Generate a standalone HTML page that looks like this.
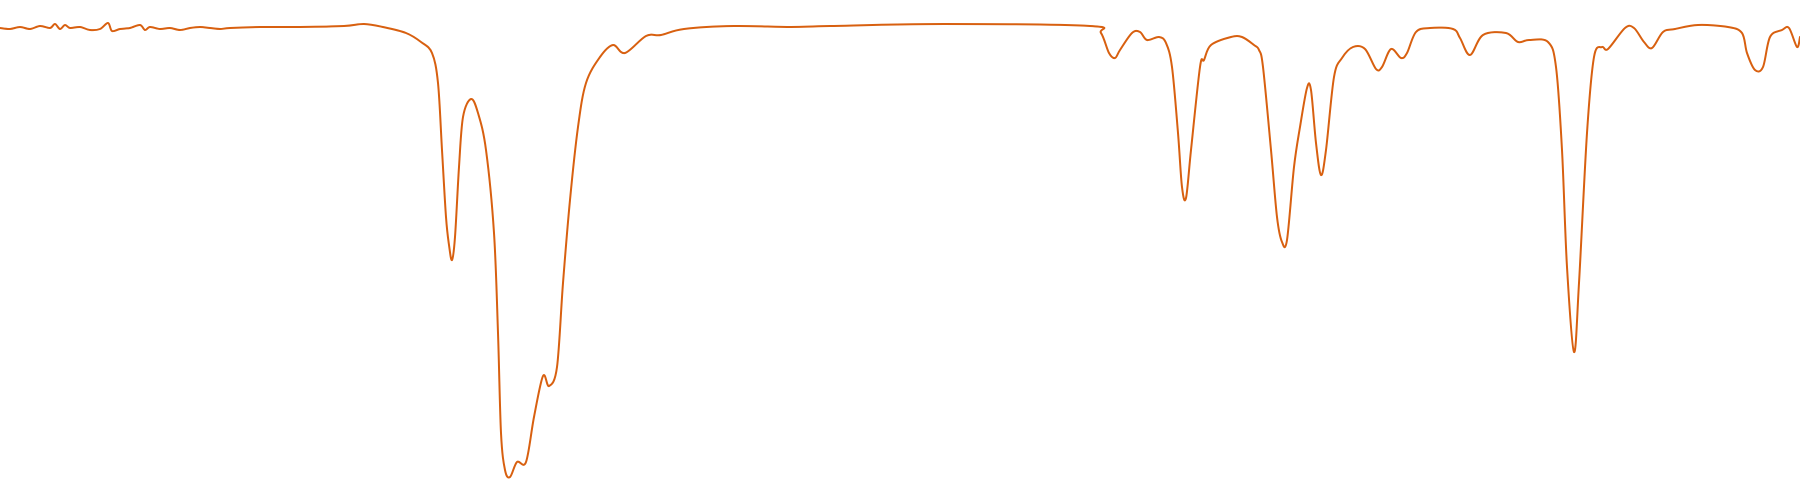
<!DOCTYPE html>
<html>
<head>
<meta charset="utf-8">
<style>
  html,body{margin:0;padding:0;background:#fff;}
  body{width:1800px;height:500px;overflow:hidden;font-family:"Liberation Sans",sans-serif;}
  svg{display:block;}
</style>
</head>
<body>
<svg id="chart" width="1800" height="500" viewBox="0 0 1800 500">
  <path id="spectrum" fill="none" stroke="#d86010" stroke-width="2" stroke-linejoin="round" stroke-linecap="round"></path>
</svg>
<script>
// wavenumber (cm-1)
const wavenumbers = [4000,3980,3960,3940,3920,3900,3890,3880,3870,3860,3840,3820,3800,3784,3776,3760,3740,3720,3710,3700,3680,3660,3640,3620,3600,3580,3560,3540,3480,3400,3312,3272,3234,3188,3158,3136,3124,3116,3108,3102,3096,3090,3082,3074,3058,3044,3028,3012,3004,2998,2990,2980,2966,2948,2932,2914,2902,2886,2874,2860,2844,2828,2800,2774,2750,2708,2678,2632,2532,2418,2340,2112,1820,1798,1782,1770,1760,1736,1720,1706,1682,1668,1656,1644,1636,1628,1618,1600,1592,1578,1538,1516,1492,1482,1474,1458,1446,1436,1426,1412,1400,1386,1378,1368,1358,1348,1332,1316,1294,1270,1248,1236,1218,1198,1186,1168,1140,1094,1080,1060,1034,988,964,942,904,888,876,866,852,842,826,812,796,784,750,732,712,696,674,650,604,544,516,506,490,474,460,436,422,406,400];
// transmittance (%)
const transmittance = [94.4,94.2,94.6,94.2,94.8,94.4,95.2,94.2,95.0,94.4,94.6,94.0,94.2,95.4,93.8,94.2,94.4,95.0,94.0,94.6,94.2,94.4,94.0,94.4,94.6,94.4,94.2,94.4,94.6,94.6,94.8,95.2,94.6,93.4,91.6,89.4,83.4,70.0,56.6,51.0,48.0,52.6,66.6,76.6,80.2,77.4,70.0,53.4,33.4,13.4,6.0,4.6,7.6,7.6,16.6,24.8,22.8,26.6,43.4,60.0,74.6,83.4,88.6,91.0,89.4,92.8,93.0,94.2,94.8,94.6,94.8,95.2,94.8,93.4,89.4,88.4,90.0,93.4,93.6,92.0,92.6,91.4,86.6,73.4,62.6,60.4,70.0,86.6,88.0,91.0,92.6,92.6,91.0,90.0,86.6,70.0,56.6,51.6,52.0,66.6,74.6,82.4,82.0,71.4,65.0,70.0,84.6,88.4,90.6,90.2,86.2,86.6,90.2,88.4,89.4,93.6,94.4,94.2,92.4,89.0,93.0,93.4,91.6,92.0,91.6,86.6,70.0,46.6,29.6,43.4,73.4,88.6,90.6,90.2,94.4,94.4,91.6,90.4,93.6,94.2,95.0,94.6,93.4,89.4,86.0,86.6,92.6,94.0,94.4,90.6,92.6];

const xDomain = [4000, 400], xRange = [0, 1800];
const yDomain = [100, 0], yRange = [0, 500];
function xScale(v){ return xRange[0] + (v - xDomain[0]) / (xDomain[1] - xDomain[0]) * (xRange[1] - xRange[0]); }
function yScale(v){ return yRange[0] + (v - yDomain[0]) / (yDomain[1] - yDomain[0]) * (yRange[1] - yRange[0]); }

const pts = wavenumbers.map((w, i) => [xScale(w), yScale(transmittance[i])]);
let d = 'M' + pts[0][0].toFixed(2) + ',' + pts[0][1].toFixed(2);
const t = 0.5;
for (let i = 0; i < pts.length - 1; i++) {
  const p0 = pts[Math.max(0, i - 1)], p1 = pts[i], p2 = pts[i + 1], p3 = pts[Math.min(pts.length - 1, i + 2)];
  const c1x = p1[0] + (p2[0] - p0[0]) / 6 * t * 2;
  const c1y = p1[1] + (p2[1] - p0[1]) / 6 * t * 2;
  const c2x = p2[0] - (p3[0] - p1[0]) / 6 * t * 2;
  const c2y = p2[1] - (p3[1] - p1[1]) / 6 * t * 2;
  d += 'C' + c1x.toFixed(2) + ',' + c1y.toFixed(2) + ' ' + c2x.toFixed(2) + ',' + c2y.toFixed(2) + ' ' + p2[0].toFixed(2) + ',' + p2[1].toFixed(2);
}
document.getElementById('spectrum').setAttribute('d', d);
</script>
</body>
</html>
